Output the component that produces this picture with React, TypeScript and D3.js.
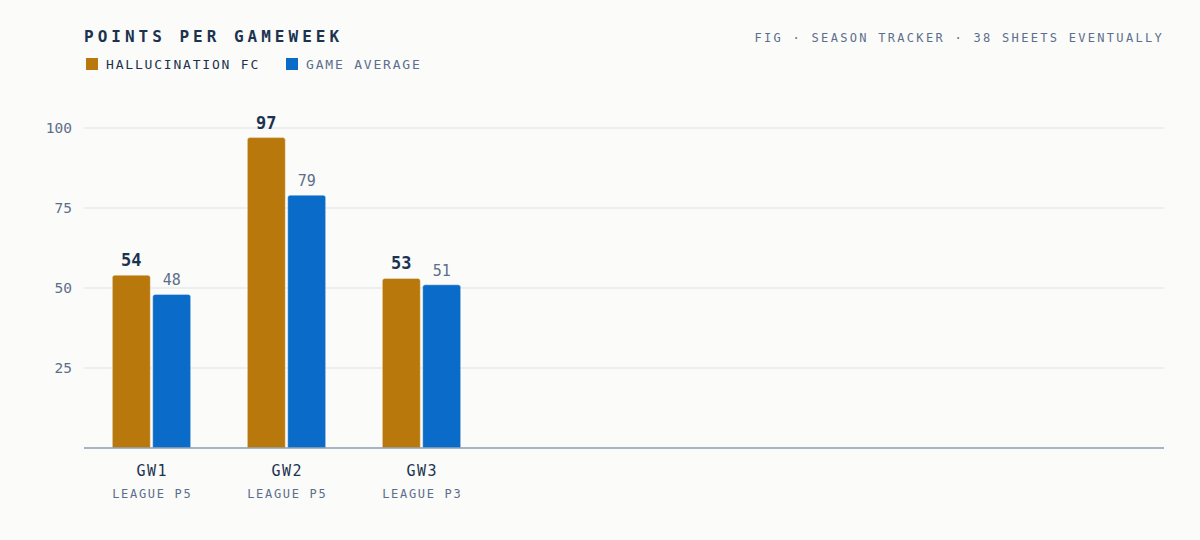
import React from 'react';
import * as d3 from 'd3';

const gameweeks = ['GW1', 'GW2', 'GW3'];
const leaguePos = ['LEAGUE P5', 'LEAGUE P5', 'LEAGUE P3'];
const teamPoints = [54, 97, 53];
const avgPoints = [48, 79, 51];
const yTicks = [25, 50, 75, 100];
const seriesNames = ['HALLUCINATION FC', 'GAME AVERAGE'];
const visibleSlots = 8; // room for more sheets as the season goes

const W = 1200;
const H = 540;
const BG = '#fbfbf9';
const GOLD = '#b8780b';
const BLUE = '#0b6bc8';
const INK = '#1c3350';
const MUTED = '#5b6f8c';
const MONO = '"DejaVu Sans Mono", "Liberation Mono", monospace';

const margin = { left: 84, right: 36, top: 128, bottom: 92 };

// bar with rounded top corners only
const topRounded = (x: number, y: number, w: number, h: number, r: number) => {
  const rr = Math.min(r, h, w / 2);
  return `M${x},${y + h}V${y + rr}Q${x},${y} ${x + rr},${y}H${x + w - rr}Q${x + w},${y} ${x + w},${y + rr}V${y + h}Z`;
};

const App: React.FC = () => {
  const plotBottom = H - margin.bottom;
  const slots = d3.range(visibleSlots).map((i) => gameweeks[i] ?? `slot${i}`);

  const x0 = d3.scaleBand<string>()
    .domain(slots)
    .range([margin.left, W - margin.right])
    .paddingInner(0.42)
    .paddingOuter(0.21);

  const x1 = d3.scaleBand<number>()
    .domain([0, 1])
    .range([0, x0.bandwidth()])
    .paddingInner(0.06);

  const y = d3.scaleLinear().domain([0, 100]).range([plotBottom, margin.top]);

  const rows = gameweeks.map((gw, i) => ({ gw, league: leaguePos[i], vals: [teamPoints[i], avgPoints[i]] }));
  const colors = [GOLD, BLUE];

  return (
    <div style={{ position: 'fixed', inset: 0, background: BG }}>
      <svg width={W} height={H} viewBox={`0 0 ${W} ${H}`} style={{ display: 'block' }}>
        <rect width={W} height={H} fill={BG} />

        {/* Title + note */}
        <text x={84} y={42} fill={INK} fontFamily={MONO} fontSize={16} fontWeight={700} letterSpacing={4}>
          POINTS PER GAMEWEEK
        </text>
        <text x={W - 36} y={42} textAnchor="end" fill={MUTED} fontFamily={MONO} fontSize={12} letterSpacing={2.3}>
          FIG · SEASON TRACKER · 38 SHEETS EVENTUALLY
        </text>

        {/* Legend */}
        {seriesNames.map((name, i) => {
          const lx = i === 0 ? 86 : 286;
          return (
            <g key={name}>
              <rect x={lx} y={58} width={12} height={12} fill={colors[i]} />
              <text x={lx + 20} y={69} fill={i === 0 ? INK : MUTED} fontFamily={MONO} fontSize={13} letterSpacing={1.8}>
                {name}
              </text>
            </g>
          );
        })}

        {/* Gridlines and y ticks */}
        {yTicks.map((t) => (
          <g key={t}>
            <line x1={margin.left} x2={W - margin.right} y1={y(t)} y2={y(t)} stroke="#e7eaee" strokeWidth={1.5} />
            <text x={72} y={y(t)} dy="0.35em" textAnchor="end" fill={MUTED} fontFamily={MONO} fontSize={14.5}>
              {t}
            </text>
          </g>
        ))}

        {/* Bars */}
        {rows.map((r) => {
          const gx = x0(r.gw) ?? 0;
          return (
            <g key={r.gw} transform={`translate(${gx},0)`}>
              {r.vals.map((v, s) => {
                const bx = x1(s) ?? 0;
                const by = y(v);
                return (
                  <g key={s}>
                    <path
                      d={topRounded(bx, by, x1.bandwidth(), plotBottom - by, 2.5)}
                      fill={colors[s]}
                      stroke={BG}
                      strokeOpacity={0.5}
                      strokeWidth={0.8}
                    />
                    <text
                      x={bx + x1.bandwidth() / 2}
                      y={by - 9}
                      textAnchor="middle"
                      fill={s === 0 ? INK : MUTED}
                      fontFamily={MONO}
                      fontSize={s === 0 ? 17 : 15}
                      fontWeight={s === 0 ? 700 : 400}
                    >
                      {v}
                    </text>
                  </g>
                );
              })}
              <text x={x0.bandwidth() / 2 + 0.7} y={476} textAnchor="middle" fill={INK} fontFamily={MONO} fontSize={15} letterSpacing={1.4}>
                {r.gw}
              </text>
              <text x={x0.bandwidth() / 2 + 0.8} y={498} textAnchor="middle" fill={MUTED} fontFamily={MONO} fontSize={12} letterSpacing={1.7}>
                {r.league}
              </text>
            </g>
          );
        })}

        {/* Baseline */}
        <line x1={margin.left} x2={W - margin.right} y1={plotBottom} y2={plotBottom} stroke="#8d9db2" strokeWidth={1.5} />
      </svg>
    </div>
  );
};

export default App;
